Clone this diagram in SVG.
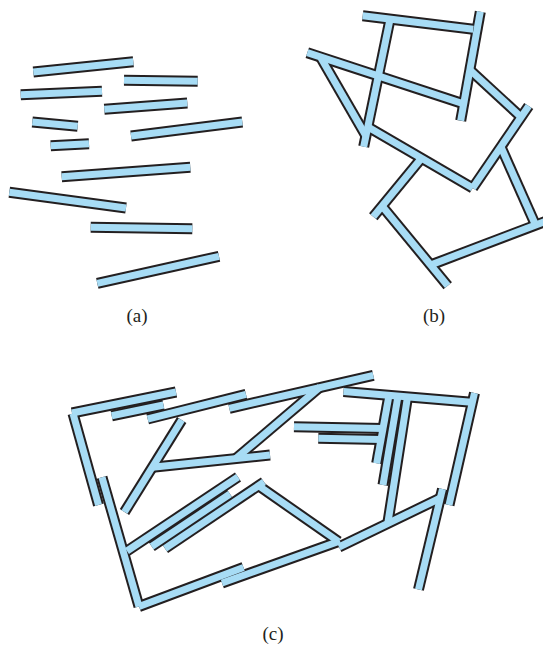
<svg xmlns="http://www.w3.org/2000/svg" xmlns:xlink="http://www.w3.org/1999/xlink" width="543" height="645" viewBox="0 0 543 645">
<style>
.edge { fill:none; stroke:#231f20; stroke-width:11; stroke-linecap:butt; }
.fill { fill:none; stroke:#a7dcf5; stroke-width:7; stroke-linecap:butt; }
.lbl { font-family:"Liberation Serif","Times New Roman",serif; font-size:19px; fill:#231f20; text-anchor:middle; }
</style>
<defs>
  <!-- panel (a) bars -->
  <g id="barsA">
    <path d="M33.3 72 L133.3 61.7"/>
    <path d="M124 80.3 L197.7 81.3"/>
    <path d="M20.7 94.7 L102 91.3"/>
    <path d="M104.3 109.3 L187.3 103"/>
    <path d="M32.3 122 L77.7 126.3"/>
    <path d="M131 136 L242.3 122"/>
    <path d="M50.7 145.7 L89 143.7"/>
    <path d="M61.7 176.7 L190.3 167.3"/>
    <path d="M9.3 192.3 L126 208"/>
    <path d="M90.7 227.3 L192.3 228.7"/>
    <path d="M97.3 283.3 L219 256.3"/>
  </g>
  <!-- panel (b) bars -->
  <g id="barsB">
    <path d="M362.7 15.8 L473.3 29.3"/>
    <path d="M480.3 11.7 L460.7 120.7"/>
    <path d="M390 19.5 L363.7 146.7"/>
    <path d="M307.3 52.7 L464 104"/>
    <path d="M321 58 L366 136"/>
    <path d="M368 127 L472.7 188"/>
    <path d="M472.7 188 L528.7 106"/>
    <path d="M470 70 L521 117"/>
    <path d="M421.7 158 L373.3 216.7"/>
    <path d="M382 206 L447.7 285.7"/>
    <path d="M430.6 265 L545 221.5"/>
    <path d="M501 147 L536 226"/>
  </g>
  <!-- panel (c) bars -->
  <g id="barsC">
    <path d="M72 413 L176 392"/>
    <path d="M73 413.5 L98.5 505"/>
    <path d="M111.7 415.8 L163.5 405"/>
    <path d="M147.7 419 L246 394.3"/>
    <path d="M229.3 408.3 L373.3 375.3"/>
    <path d="M343.5 391.5 L474.5 402.5"/>
    <path d="M474.5 393 L449 505"/>
    <path d="M442.5 489 L418.5 589.5"/>
    <path d="M389 395.3 L376.7 463.3"/>
    <path d="M398 396 L383 485"/>
    <path d="M407.5 397 L388 522"/>
    <path d="M294 426.7 L383.5 428.5"/>
    <path d="M318.3 438.3 L381.5 439.5"/>
    <path d="M181.7 420 L124.5 512"/>
    <path d="M152.5 467.3 L270 455"/>
    <path d="M236 458.4 L320 387"/>
    <path d="M127 551 L238 477"/>
    <path d="M151.7 546.5 L230 494"/>
    <path d="M165 548.5 L264 482"/>
    <path d="M259 486 L338.5 541.5"/>
    <path d="M102 477.3 L139 606.5"/>
    <path d="M139 606.5 L243.5 567.5"/>
    <path d="M222 583 L340 541"/>
    <path d="M339 547 L440.5 498"/>
  </g>
</defs>
<g id="panel-a">
  <use xlink:href="#barsA" class="edge"/>
  <use xlink:href="#barsA" class="fill"/>
  <text class="lbl" x="137" y="322">(a)</text>
</g>
<g id="panel-b">
  <use xlink:href="#barsB" class="edge"/>
  <use xlink:href="#barsB" class="fill"/>
  <text class="lbl" x="434" y="322">(b)</text>
</g>
<g id="panel-c">
  <use xlink:href="#barsC" class="edge"/>
  <use xlink:href="#barsC" class="fill"/>
  <text class="lbl" x="273" y="640">(c)</text>
</g>
</svg>
